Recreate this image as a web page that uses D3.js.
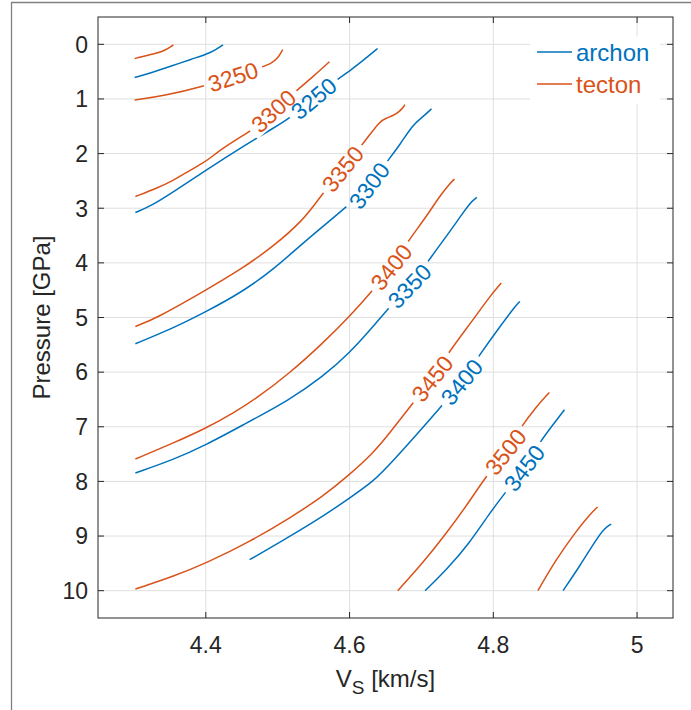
<!DOCTYPE html>
<html>
<head>
<meta charset="utf-8">
<script src="https://cdn.jsdelivr.net/npm/d3@7"></script>
<style>
  body { margin: 0; background: #fff; overflow: hidden; }
  svg { display: block; }
  text { font-family: "Liberation Sans", Arial, Helvetica, sans-serif; }
</style>
</head>
<body>
<svg></svg>
<script>
// Contour lines, points are [Vs (km/s), P (GPa)]
const archon3200 = [[4.301,0.607],[4.324,0.52],[4.352,0.40],[4.38,0.27],[4.408,0.156],[4.424,0.01]];
const archon3250 = [[4.302,3.078],[4.323,2.965],[4.355,2.70],[4.401,2.296],[4.448,1.899],[4.494,1.533],[4.517,1.35],[4.549,1.003],[4.581,0.655],[4.602,0.472],[4.625,0.229],[4.639,0.077]];
const archon3300 = [[4.302,5.48],[4.355,5.193],[4.401,4.889],[4.448,4.553],[4.494,4.126],[4.54,3.577],[4.598,2.955],[4.627,2.59],[4.654,2.113],[4.67,1.839],[4.688,1.473],[4.7,1.35],[4.714,1.18]];
const archon3350 = [[4.302,7.846],[4.355,7.603],[4.401,7.328],[4.448,6.993],[4.517,6.505],[4.563,6.079],[4.6,5.65],[4.633,5.164],[4.656,4.798],[4.685,4.40],[4.709,3.974],[4.721,3.76],[4.753,3.18],[4.767,2.906],[4.777,2.803]];
const archon3400 = [[4.461,9.433],[4.517,9.006],[4.563,8.64],[4.6,8.304],[4.633,8.0],[4.656,7.694],[4.73,6.596],[4.756,6.18],[4.781,5.68],[4.813,5.10],[4.83,4.80],[4.837,4.706]];
const archon3450 = [[4.705,10],[4.735,9.616],[4.767,9.127],[4.795,8.578],[4.818,8.183],[4.843,7.755],[4.867,7.237],[4.883,6.962],[4.899,6.688]];
const archon3500 = [[4.897,10],[4.92,9.555],[4.943,9.067],[4.955,8.853],[4.964,8.78]];

const tecton3200 = [[4.301,0.26],[4.324,0.187],[4.343,0.119],[4.355,0.01]];
const tecton3250 = [[4.301,1.02],[4.343,0.94],[4.399,0.76],[4.439,0.59],[4.48,0.41],[4.491,0.351],[4.5,0.26],[4.507,0.095]];
const tecton3300 = [[4.302,2.785],[4.332,2.631],[4.355,2.49],[4.369,2.37],[4.397,2.174],[4.415,1.99],[4.424,1.899],[4.457,1.625],[4.468,1.533],[4.495,1.21],[4.528,0.827],[4.549,0.595],[4.572,0.32]];
const tecton3350 = [[4.302,5.164],[4.332,5.01],[4.401,4.492],[4.448,4.126],[4.494,3.70],[4.536,3.211],[4.556,2.845],[4.585,2.37],[4.614,1.899],[4.628,1.656],[4.642,1.413],[4.651,1.35],[4.66,1.308],[4.67,1.23],[4.677,1.107]];
const tecton3400 = [[4.302,7.59],[4.355,7.297],[4.401,7.023],[4.438,6.748],[4.468,6.505],[4.517,6.016],[4.563,5.467],[4.6,4.981],[4.633,4.492],[4.658,4.077],[4.681,3.608],[4.707,3.151],[4.725,2.785],[4.739,2.553],[4.746,2.467]];
const tecton3450 = [[4.302,9.97],[4.355,9.738],[4.401,9.493],[4.462,9.098],[4.517,8.67],[4.563,8.274],[4.6,7.877],[4.633,7.48],[4.656,7.114],[4.688,6.565],[4.715,6.12],[4.737,5.65],[4.772,5.04],[4.795,4.615],[4.811,4.37]];
const tecton3500 = [[4.667,10],[4.702,9.493],[4.735,8.944],[4.762,8.457],[4.79,7.908],[4.817,7.46],[4.839,6.994],[4.86,6.628],[4.878,6.371]];
const tecton3550 = [[4.862,10],[4.887,9.433],[4.915,8.915],[4.934,8.609],[4.945,8.469]];

// inline labels: [level, Vs, P] (snapped onto the line below)
const archonLabels = [[3250,4.552,1.02],[3300,4.627,2.583],[3350,4.685,4.443],[3400,4.756,6.18],[3450,4.843,7.755]];
const tectonLabels = [[3250,4.438,0.595],[3300,4.494,1.217],[3350,4.592,2.30],[3400,4.658,4.077],[3450,4.715,6.12],[3500,4.817,7.46]];

const xTicks = [4.4, 4.6, 4.8, 5];
const yTicks = [0, 1, 2, 3, 4, 5, 6, 7, 8, 9, 10];
const seriesNames = ["archon", "tecton"];
const seriesColors = ["#0072BD", "#D95319"];

const archonLines = [
  {level: 3200, pts: archon3200}, {level: 3250, pts: archon3250}, {level: 3300, pts: archon3300},
  {level: 3350, pts: archon3350}, {level: 3400, pts: archon3400}, {level: 3450, pts: archon3450},
  {level: 3500, pts: archon3500}
];
const tectonLines = [
  {level: 3200, pts: tecton3200}, {level: 3250, pts: tecton3250}, {level: 3300, pts: tecton3300},
  {level: 3350, pts: tecton3350}, {level: 3400, pts: tecton3400}, {level: 3450, pts: tecton3450},
  {level: 3500, pts: tecton3500}, {level: 3550, pts: tecton3550}
];

// Dimensions
const width = 691, height = 710;
const margin = { top: 17, right: 18, bottom: 92, left: 98 };
const innerWidth = width - margin.left - margin.right;
const innerHeight = height - margin.top - margin.bottom;
const axisColor = "#262626";
const fontSize = 23;

const svg = d3.select("svg").attr("width", width).attr("height", height);

// figure frame (grey border of the exported figure)
svg.append("path")
  .attr("d", `M11.5,${height} V2.5 H${width}`)
  .attr("fill", "none").attr("stroke", "#808080").attr("stroke-width", 1.3);

const g = svg.append("g").attr("transform", `translate(${margin.left},${margin.top})`);

// Scales
const x = d3.scaleLinear().domain([4.25, 5.05]).range([0, innerWidth]);
const y = d3.scaleLinear().domain([-0.5, 10.5]).range([0, innerHeight]);

// Grid
g.append("g").selectAll("line").data(xTicks).join("line")
  .attr("x1", d => x(d)).attr("x2", d => x(d)).attr("y1", 0).attr("y2", innerHeight)
  .attr("stroke", "#dfdfdf").attr("stroke-width", 1);
g.append("g").selectAll("line").data(yTicks).join("line")
  .attr("y1", d => y(d)).attr("y2", d => y(d)).attr("x1", 0).attr("x2", innerWidth)
  .attr("stroke", "#dfdfdf").attr("stroke-width", 1);

// Contour lines with gaps under the labels (mask)
const defs = svg.append("defs");
const mask = defs.append("mask").attr("id", "labelGaps")
  .attr("maskUnits", "userSpaceOnUse")
  .attr("x", -200).attr("y", -200).attr("width", 1200).attr("height", 1200);
mask.append("rect").attr("x", -200).attr("y", -200).attr("width", 1200).attr("height", 1200).attr("fill", "white");

const line = d3.line().x(d => x(d[0])).y(d => y(d[1])).curve(d3.curveBasis);

const contourGroup = g.append("g").attr("mask", "url(#labelGaps)");
const labelGroup = g.append("g");

function drawSeries(lines, labels, color) {
  contourGroup.append("g").selectAll("path").data(lines).join("path")
    .attr("d", d => line(d.pts))
    .attr("fill", "none").attr("stroke", color).attr("stroke-width", 1.5);

  labels.forEach(([level, lx, ly]) => {
    const pts = lines.find(l => l.level === level).pts.map(p => [x(p[0]), y(p[1])]);
    const px = x(lx), py = y(ly);
    // project onto the nearest segment of the polyline
    let best = null;
    for (let i = 0; i < pts.length - 1; i++) {
      const [ax, ay] = pts[i], [bx, by] = pts[i + 1];
      const dx = bx - ax, dy = by - ay;
      const t = Math.max(0, Math.min(1, ((px - ax) * dx + (py - ay) * dy) / (dx * dx + dy * dy)));
      const qx = ax + t * dx, qy = ay + t * dy;
      const dist = (qx - px) ** 2 + (qy - py) ** 2;
      if (!best || dist < best.dist) best = { dist, qx, qy, ang: Math.atan2(dy, dx) * 180 / Math.PI };
    }
    let ang = best.ang;
    if (ang > 90) ang -= 180;
    if (ang < -90) ang += 180;
    const t = labelGroup.append("text")
      .attr("transform", `translate(${best.qx},${best.qy}) rotate(${ang})`)
      .attr("text-anchor", "middle").attr("dy", "0.36em")
      .attr("font-size", fontSize).attr("fill", color)
      .text(level);
    const w = t.node().getComputedTextLength();
    mask.append("rect")
      .attr("x", -w / 2 - 5).attr("y", -fontSize * 0.45)
      .attr("width", w + 10).attr("height", fontSize * 0.9)
      .attr("transform", `translate(${best.qx},${best.qy}) rotate(${ang})`)
      .attr("fill", "black");
  });
}

drawSeries(archonLines, archonLabels, seriesColors[0]);
drawSeries(tectonLines, tectonLabels, seriesColors[1]);

// Axes box with inward ticks on all sides
const tickLen = 6;
const axes = g.append("g");
axes.append("rect").attr("width", innerWidth).attr("height", innerHeight)
  .attr("fill", "none").attr("stroke", axisColor).attr("stroke-width", 1);
xTicks.forEach(t => {
  axes.append("line").attr("x1", x(t)).attr("x2", x(t)).attr("y1", innerHeight).attr("y2", innerHeight - tickLen).attr("stroke", axisColor);
  axes.append("line").attr("x1", x(t)).attr("x2", x(t)).attr("y1", 0).attr("y2", tickLen).attr("stroke", axisColor);
});
yTicks.forEach(t => {
  axes.append("line").attr("y1", y(t)).attr("y2", y(t)).attr("x1", 0).attr("x2", tickLen).attr("stroke", axisColor);
  axes.append("line").attr("y1", y(t)).attr("y2", y(t)).attr("x1", innerWidth).attr("x2", innerWidth - tickLen).attr("stroke", axisColor);
});

// Tick labels
axes.append("g").selectAll("text").data(xTicks).join("text")
  .attr("x", d => x(d)).attr("y", innerHeight + 35)
  .attr("text-anchor", "middle").attr("font-size", fontSize).attr("fill", axisColor)
  .text(d => d3.format("~g")(d));
axes.append("g").selectAll("text").data(yTicks).join("text")
  .attr("x", -10).attr("y", d => y(d)).attr("dy", "0.36em")
  .attr("text-anchor", "end").attr("font-size", fontSize).attr("fill", axisColor)
  .text(d => d);

// Axis titles
const xl = g.append("text")
  .attr("x", innerWidth / 2).attr("y", innerHeight + 69)
  .attr("text-anchor", "middle").attr("font-size", 24).attr("fill", axisColor);
xl.append("tspan").text("V");
xl.append("tspan").attr("font-size", 19).attr("dy", 7).text("S");
xl.append("tspan").attr("dy", -7).text(" [km/s]");

g.append("text")
  .attr("transform", `translate(${-48},${innerHeight / 2}) rotate(-90)`)
  .attr("text-anchor", "middle").attr("font-size", 24).attr("fill", axisColor)
  .text("Pressure [GPa]");

// Legend
const legend = g.append("g").attr("transform", `translate(${432},${19})`);
legend.append("rect").attr("width", 130).attr("height", 68).attr("fill", "#fff");
seriesNames.forEach((name, i) => {
  const ly = 16 + i * 32;
  legend.append("line").attr("x1", 7).attr("x2", 42).attr("y1", ly).attr("y2", ly)
    .attr("stroke", seriesColors[i]).attr("stroke-width", 1.5);
  legend.append("text").attr("x", 46).attr("y", ly).attr("dy", "0.36em")
    .attr("font-size", 24).attr("fill", seriesColors[i]).text(name);
});
</script>
</body>
</html>
